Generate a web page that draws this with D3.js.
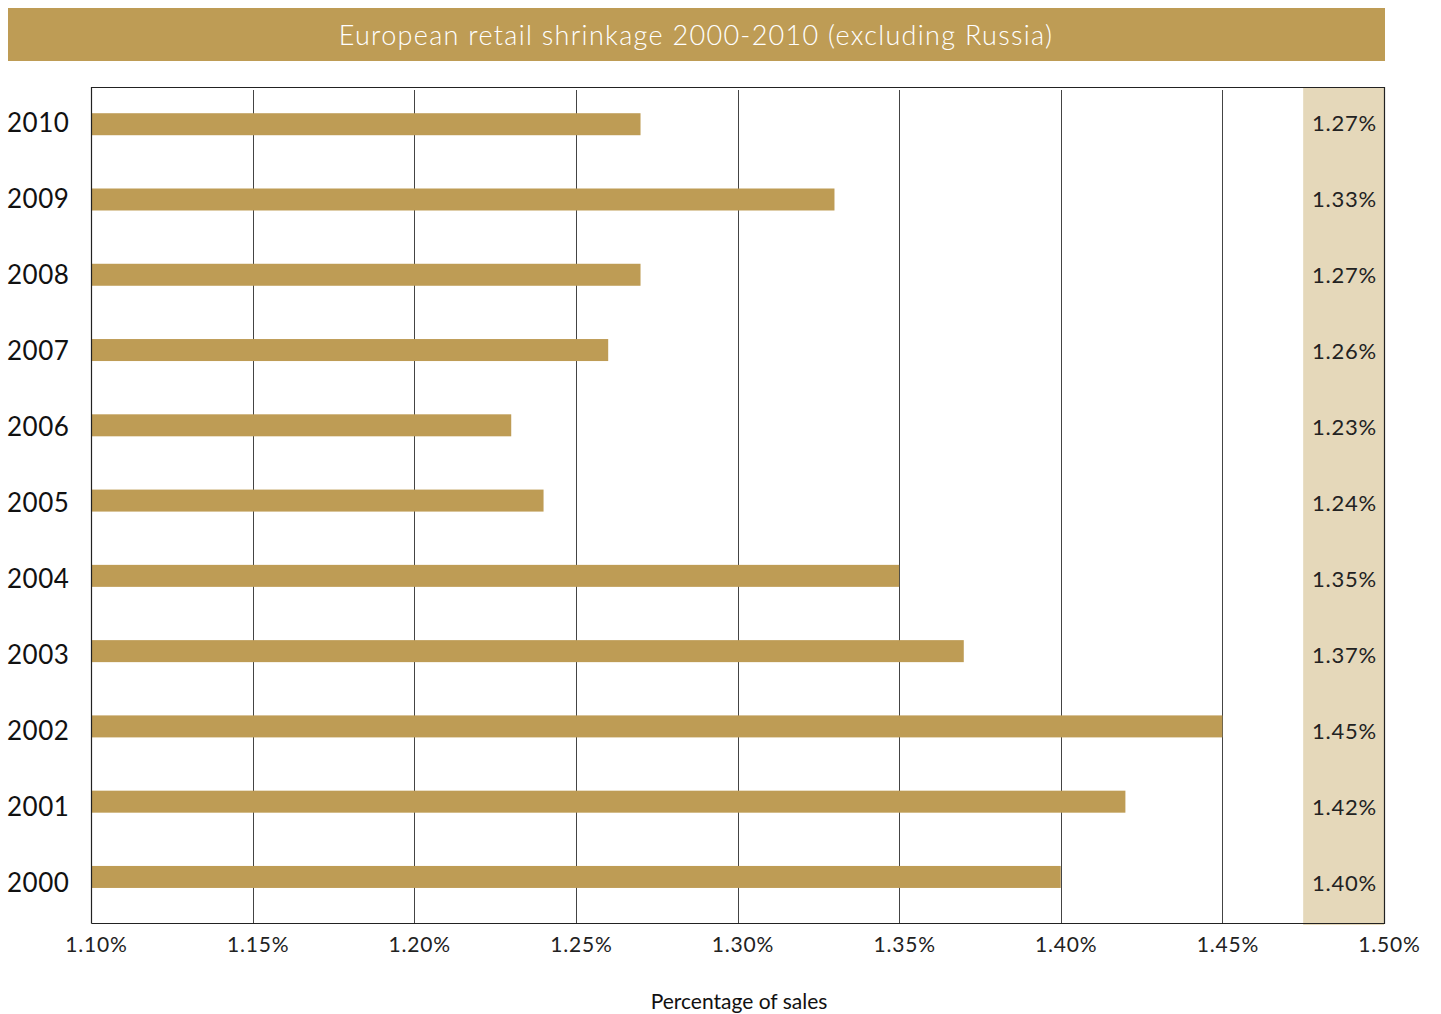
<!DOCTYPE html>
<html><head><meta charset="utf-8">
<script src="https://cdn.jsdelivr.net/npm/d3@7"></script>
<style>body{margin:0;background:#fff;} text{font-family:Lato,"Open Sans",sans-serif;}</style>
</head><body>
<svg id="c" width="1441" height="1014"></svg>
<script>
const years = ["2010","2009","2008","2007","2006","2005","2004","2003","2002","2001","2000"];
const values = [1.27,1.33,1.27,1.26,1.23,1.24,1.35,1.37,1.45,1.42,1.40];
const valueLabels = ["1.27%","1.33%","1.27%","1.26%","1.23%","1.24%","1.35%","1.37%","1.45%","1.42%","1.40%"];
const ticks = [1.10,1.15,1.20,1.25,1.30,1.35,1.40,1.45,1.50];
const title = "European retail shrinkage 2000-2010 (excluding Russia)";
const xTitle = "Percentage of sales";

const gold = "#BE9C55", shade = "#E5D8BA";
const svg = d3.select("#c");
const L = 91, R = 1384, T = 87, B = 923;
const x = d3.scaleLinear().domain([1.10,1.50]).range([L,R]);
const yBar = d3.scaleBand().domain(years).range([86.5,914.5]).paddingInner(0.71).paddingOuter(0.355);
const yLab = d3.scaleBand().domain(years).range([T,B]);

// title band
svg.append("rect").attr("x",8).attr("y",8).attr("width",1377).attr("height",53).attr("fill",gold);
svg.append("text").attr("x",696).attr("y",45).attr("text-anchor","middle").attr("fill","#fff")
  .attr("font-size",27).attr("font-weight",300).attr("letter-spacing",1.3).text(title);

// shaded column
svg.append("rect").attr("x",x(1.475)).attr("y",T).attr("width",R-x(1.475)).attr("height",B-T+2).attr("fill",shade);

// gridlines
svg.append("g").selectAll("line").data(ticks.filter(t=>t>1.10 && t<1.475)).join("line")
  .attr("x1",d=>Math.round(x(d))+0.5).attr("x2",d=>Math.round(x(d))+0.5).attr("y1",90).attr("y2",B)
  .attr("stroke","#444").attr("stroke-width",1);

// bars
svg.append("g").selectAll("rect").data(years).join("rect")
  .attr("x",x(1.10)).attr("y",(d)=>yBar(d)).attr("height",22)
  .attr("width",(d,i)=>x(values[i])-x(1.10)).attr("fill",gold);

// frame
svg.append("path").attr("d",`M${L+0.5},${B+0.5}V${T+0.5}H${R+0.5}V${B+0.5}H${L+0.5}`)
  .attr("fill","none").attr("stroke","#222").attr("stroke-width",1.2);

// year labels
svg.append("g").selectAll("text").data(years).join("text")
  .attr("x",7).attr("y",d=>yLab(d)+yLab.bandwidth()/2+7).attr("font-size",26).attr("fill","#111")
  .attr("letter-spacing",0.5).text(d=>d);

// value labels
svg.append("g").selectAll("text").data(years).join("text")
  .attr("x",1377).attr("y",d=>yLab(d)+yLab.bandwidth()/2+6).attr("text-anchor","end")
  .attr("font-size",22).attr("fill","#222").attr("letter-spacing",0.8).text((d,i)=>valueLabels[i]);

// x axis tick labels
const xa = svg.append("g").attr("transform",`translate(0,${B})`)
  .call(d3.axisBottom(x).tickValues(ticks).tickSize(0).tickPadding(10).tickFormat(d=>d3.format(".2f")(d)+"%"));
xa.select(".domain").remove();
xa.selectAll("text").attr("font-size",21).attr("fill","#222").attr("font-family","Lato,sans-serif")
  .attr("letter-spacing",0.8).attr("dx",5).attr("dy","0.9em");

svg.append("text").attr("x",739).attr("y",1009).attr("text-anchor","middle").attr("font-size",21).attr("fill","#111").text(xTitle);
</script>
</body></html>
